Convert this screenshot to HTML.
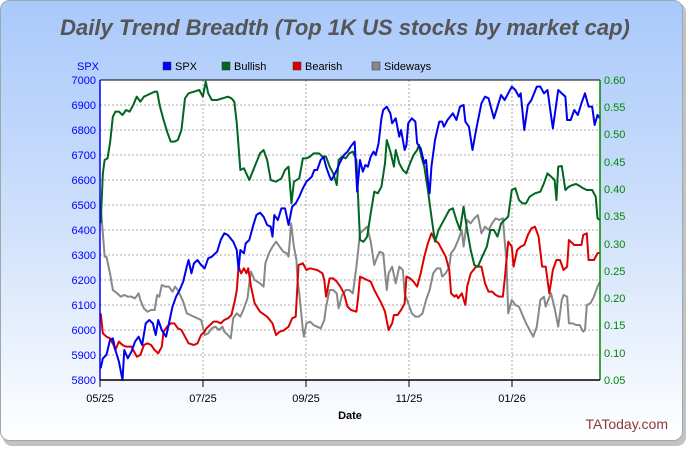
<!DOCTYPE html>
<html><head><meta charset="utf-8"><style>
html,body{margin:0;padding:0;background:#fff;}
svg{display:block;font-family:"Liberation Sans",sans-serif;}
polyline{vector-effect:non-scaling-stroke;}
</style></head><body>
<svg width="690" height="450" viewBox="0 0 690 450">
<defs>
<linearGradient id="bg" x1="0" y1="0" x2="0" y2="1">
<stop offset="0" stop-color="#a9c9fb"/><stop offset="0.5" stop-color="#cfe0fb"/><stop offset="1" stop-color="#ffffff"/>
</linearGradient>
</defs>
<rect x="3" y="3" width="683" height="443" rx="9" fill="#999" opacity="0.6"/>
<rect x="0.5" y="0.5" width="682" height="440" rx="9" fill="url(#bg)" stroke="#9aa" stroke-width="1"/>
<text x="345" y="35" text-anchor="middle" font-size="22" font-weight="bold" font-style="italic" fill="#555">Daily Trend Breadth (Top 1K US stocks by market cap)</text>
<text x="88" y="70" text-anchor="middle" font-size="11" fill="#00f">SPX</text>
<g font-size="11" fill="#000">
<rect x="163" y="62" width="8" height="8" fill="#00f" stroke="#333" stroke-width=".5"/><text x="175" y="70">SPX</text>
<rect x="222" y="62" width="8" height="8" fill="#006622" stroke="#333" stroke-width=".5"/><text x="234" y="70">Bullish</text>
<rect x="293" y="62" width="8" height="8" fill="#d00" stroke="#333" stroke-width=".5"/><text x="305" y="70">Bearish</text>
<rect x="372" y="62" width="8" height="8" fill="#888" stroke="#333" stroke-width=".5"/><text x="384" y="70">Sideways</text>
</g>
<rect x="100" y="80" width="500" height="300" fill="#fff"/>
<g stroke="#aaa" stroke-dasharray="2,2" stroke-width="1">
<line x1="100" y1="105" x2="600" y2="105"/><line x1="100" y1="130" x2="600" y2="130"/><line x1="100" y1="155" x2="600" y2="155"/><line x1="100" y1="180" x2="600" y2="180"/><line x1="100" y1="205" x2="600" y2="205"/><line x1="100" y1="230" x2="600" y2="230"/><line x1="100" y1="255" x2="600" y2="255"/><line x1="100" y1="280" x2="600" y2="280"/><line x1="100" y1="305" x2="600" y2="305"/><line x1="100" y1="330" x2="600" y2="330"/><line x1="100" y1="355" x2="600" y2="355"/>
<line x1="203" y1="80" x2="203" y2="380"/><line x1="306" y1="80" x2="306" y2="380"/><line x1="409" y1="80" x2="409" y2="380"/><line x1="512" y1="80" x2="512" y2="380"/>
</g>
<line x1="100" y1="80" x2="600" y2="80" stroke="#000"/>
<g fill="none" stroke-width="2" stroke-linejoin="round" transform="translate(60,60) scale(0.357143,0.333333)">
<polyline stroke="#888" points="114,440 120,520 125,590 130,590 140,640 148,690 160,700 170,710 180,705 190,710 200,710 210,715 220,700 225,720 235,745 245,755 255,750 265,750 272,705 278,710 285,675 295,680 305,680 315,695 322,680 330,690 345,725 355,760 365,765 375,770 385,775 395,780 400,800 405,825 415,820 425,805 435,800 445,810 455,800 460,815 470,825 478,835 485,775 495,760 505,770 515,745 525,715 530,670 535,635 545,660 560,670 570,680 575,610 585,580 595,560 605,545 615,560 625,575 635,580 640,590 647,490 655,560 662,600 665,660 670,700 675,755 680,810 683,830 690,790 700,785 710,795 720,800 730,805 740,780 745,740 755,690 765,690 775,700 780,745 790,705 800,690 810,690 820,700 830,620 840,520 850,510 860,500 870,545 880,615 885,600 895,575 905,580 915,690 920,640 930,620 940,670 950,620 960,630 965,700 975,730 985,760 995,770 1005,770 1015,760 1025,720 1035,690 1045,640 1055,625 1065,625 1070,650 1080,640 1090,620 1095,580 1105,565 1115,540 1125,510 1130,560 1140,480 1150,490 1160,475 1170,465 1180,520 1190,500 1200,510 1210,490 1220,475 1230,480 1240,475 1245,540 1250,600 1255,760 1265,720 1275,735 1285,740 1295,765 1305,790 1315,810 1325,830 1335,800 1345,720 1355,710 1360,740 1365,725 1375,700 1385,745 1395,800 1405,720 1410,705 1420,710 1425,790 1435,790 1445,795 1455,795 1465,815 1470,810 1475,735 1485,730 1495,710 1505,680 1512,665"/>
<polyline stroke="#dd0000" points="114,760 120,820 130,830 140,835 150,855 155,870 165,845 175,855 185,860 200,860 205,870 215,890 225,885 235,855 245,850 255,855 265,870 275,880 285,860 290,815 300,800 310,790 320,790 330,805 340,810 350,830 360,850 375,855 385,850 395,825 405,815 410,805 420,795 430,785 440,785 450,790 460,780 470,775 480,765 490,720 495,690 500,620 507,640 515,625 522,640 527,625 535,680 545,730 560,755 580,770 595,790 605,825 615,815 625,812 640,800 650,775 660,770 668,615 680,610 690,630 700,625 720,630 735,640 740,660 745,710 755,655 765,655 775,665 785,680 795,700 805,740 815,750 830,755 835,710 840,650 850,655 860,660 870,665 880,690 890,710 900,730 910,755 920,810 930,790 935,765 945,765 955,750 965,730 970,650 980,655 990,665 1000,680 1010,640 1020,590 1030,550 1040,520 1050,540 1060,550 1070,570 1080,590 1090,630 1095,700 1105,710 1110,705 1115,715 1125,700 1135,735 1140,680 1150,640 1165,620 1180,620 1190,670 1200,695 1210,695 1220,705 1230,710 1240,710 1245,660 1255,545 1265,560 1270,620 1280,570 1290,560 1300,555 1310,525 1320,505 1330,500 1340,530 1350,620 1360,620 1370,700 1380,630 1390,600 1400,600 1410,630 1420,620 1425,540 1440,555 1450,555 1460,555 1465,525 1475,520 1480,600 1495,600 1505,580 1512,578"/>
<polyline stroke="#006622" points="114,490 120,340 125,300 133,295 140,250 148,170 155,155 165,155 175,165 185,150 195,155 205,135 215,110 225,125 235,110 245,105 255,100 265,95 272,95 280,140 290,180 300,215 310,245 320,245 330,240 340,210 350,115 360,100 375,95 390,90 400,110 408,65 415,100 425,120 440,120 455,115 470,110 480,115 488,125 495,190 505,330 515,325 530,360 545,320 560,280 570,270 580,300 590,360 605,365 620,355 630,330 640,320 648,430 655,365 670,355 680,295 690,295 700,290 710,280 725,280 735,290 745,290 755,320 765,340 775,375 780,300 790,290 800,295 810,280 820,275 830,300 840,540 850,545 860,530 870,460 880,395 890,400 900,380 910,310 915,240 925,275 935,320 940,270 950,310 960,330 970,340 980,310 990,285 1000,270 1005,255 1012,290 1020,320 1030,390 1040,470 1050,545 1060,510 1070,490 1080,470 1090,450 1100,445 1110,480 1120,510 1130,440 1140,510 1150,570 1160,615 1170,620 1180,595 1195,560 1205,510 1215,510 1225,530 1235,490 1245,480 1255,470 1265,390 1275,385 1285,420 1295,430 1305,430 1315,410 1330,400 1345,395 1355,370 1365,340 1375,350 1385,360 1390,420 1395,320 1405,318 1415,390 1425,380 1435,375 1445,372 1455,378 1465,385 1475,390 1490,390 1500,410 1505,475 1512,480"/>
<polyline stroke="#0000ee" points="114,925 120,895 130,885 140,840 148,835 155,870 165,905 175,960 180,870 190,895 200,875 210,845 220,830 230,855 240,790 250,780 260,790 268,825 275,780 285,810 297,830 305,790 315,740 325,710 335,690 345,665 355,620 360,600 368,640 375,610 385,600 395,615 405,625 415,595 425,590 440,575 450,540 460,520 470,525 485,545 495,570 500,630 505,570 515,580 520,550 530,540 540,500 550,465 560,458 570,470 580,495 590,500 595,530 600,465 610,480 620,445 630,445 640,495 650,440 660,430 670,410 680,385 690,365 700,355 705,350 712,330 720,330 730,300 738,290 745,320 755,350 760,360 768,345 775,330 785,305 795,285 805,275 815,258 825,245 832,395 840,300 848,335 855,315 862,320 870,290 878,275 884,285 892,250 900,175 905,150 915,140 925,160 930,190 940,175 950,230 955,210 965,270 970,255 975,190 985,175 995,185 1000,250 1010,265 1020,310 1025,300 1030,360 1035,400 1040,320 1050,240 1062,185 1070,185 1075,200 1085,180 1100,160 1110,180 1120,140 1130,135 1135,185 1145,200 1155,270 1165,210 1180,130 1190,110 1200,115 1215,175 1225,140 1235,105 1245,120 1255,100 1265,80 1275,90 1285,110 1290,100 1300,210 1310,135 1320,120 1335,80 1345,80 1355,100 1365,90 1380,205 1395,90 1405,100 1415,110 1420,180 1430,180 1440,150 1450,165 1460,130 1470,100 1480,140 1490,140 1497,195 1505,165 1512,175"/>
</g>
<line x1="100" y1="80" x2="100" y2="380" stroke="#00f" stroke-width="1.5"/>
<line x1="600" y1="80" x2="600" y2="380" stroke="#080" stroke-width="1.5"/>
<line x1="100" y1="380" x2="600" y2="380" stroke="#000" stroke-width="1.5"/>
<g stroke="#000"><line x1="100" y1="380" x2="100" y2="387"/><line x1="203" y1="380" x2="203" y2="387"/><line x1="306" y1="380" x2="306" y2="387"/><line x1="409" y1="380" x2="409" y2="387"/><line x1="512" y1="380" x2="512" y2="387"/></g>
<g font-size="11" fill="#00f" text-anchor="end">
<text x="96" y="84">7000</text><text x="96" y="109">6900</text><text x="96" y="134">6800</text><text x="96" y="159">6700</text><text x="96" y="184">6600</text><text x="96" y="209">6500</text><text x="96" y="234">6400</text><text x="96" y="259">6300</text><text x="96" y="284">6200</text><text x="96" y="309">6100</text><text x="96" y="334">6000</text><text x="96" y="359">5900</text><text x="96" y="384">5800</text>
</g>
<g font-size="11" fill="#080">
<text x="604" y="84">0.60</text><text x="604" y="111">0.55</text><text x="604" y="138">0.50</text><text x="604" y="166">0.45</text><text x="604" y="193">0.40</text><text x="604" y="220">0.35</text><text x="604" y="248">0.30</text><text x="604" y="275">0.25</text><text x="604" y="302">0.20</text><text x="604" y="329">0.15</text><text x="604" y="357">0.10</text><text x="604" y="384">0.05</text>
</g>
<g font-size="11" fill="#000" text-anchor="middle">
<text x="100" y="402">05/25</text><text x="203" y="402">07/25</text><text x="306" y="402">09/25</text><text x="409" y="402">11/25</text><text x="512" y="402">01/26</text>
<text x="350" y="419" font-weight="bold">Date</text>
</g>
<text x="668" y="429" text-anchor="end" font-size="14" fill="#8b3a3a">TAToday.com</text>
</svg>
</body></html>
